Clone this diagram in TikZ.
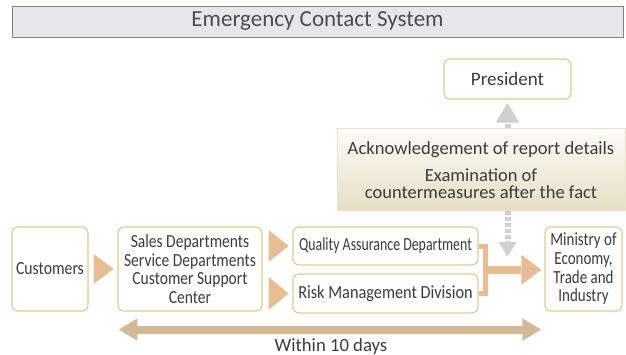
\documentclass[tikz,border=0pt]{standalone}
\usepackage{fontspec}
\usepackage{graphicx}
\setmainfont{Carlito}
\usetikzlibrary{calc,arrows.meta}

\definecolor{txt}{RGB}{60,60,60}
\definecolor{gold}{RGB}{228,203,140}
\definecolor{peach}{RGB}{233,189,148}
\definecolor{tan}{RGB}{210,186,150}
\definecolor{greyarrow}{RGB}{208,208,208}
\definecolor{barfill}{RGB}{230,231,232}
\definecolor{barline}{RGB}{128,128,128}
\definecolor{ackline}{RGB}{232,226,205}
\definecolor{acktop}{RGB}{253,252,248}
\definecolor{ackbot}{RGB}{230,223,198}

% horizontally condensed text
\newcommand\sqz[2]{\scalebox{#1}[1]{#2}}

\begin{document}
\begin{tikzpicture}[x=1pt,y=-1pt,
  boxfont/.style={font=\fontsize{18.5}{18.6}\selectfont},
  unitbox/.style={draw=gold, line width=1.2pt, rounded corners=6pt, fill=white,
    inner sep=0pt, text=txt, align=center, boxfont},
  plain/.style={inner sep=0pt, text=txt},
  greydash/.style={draw=greyarrow, line width=6pt, dash pattern=on 4pt off 2pt},
]
\useasboundingbox (0,0) rectangle (626,354);

% title bar
\node[draw=barline, fill=barfill, line width=1pt, minimum width=611pt, minimum height=31pt,
  inner sep=0pt, text={rgb,255:red,77;green,77;blue,77}, font=\fontsize{23}{23}\selectfont]
  (title) at (317.5,21.5) {Emergency Contact System};

% organisation boxes
\node[unitbox, minimum width=76pt, minimum height=84pt] (cust) at (50,269) {\sqz{0.85}{Customers}};
\node[unitbox, minimum width=144pt, minimum height=84pt] (sales) at (190,269)
  {\sqz{0.84}{Sales Departments}\\\sqz{0.84}{Service Departments}\\\sqz{0.84}{Customer Support}\\\sqz{0.84}{Center}};
\node[unitbox, minimum width=185pt, minimum height=38pt] (qa) at (385.5,246)
  {\sqz{0.75}{Quality Assurance Department}};
\node[unitbox, minimum width=185pt, minimum height=39pt] (risk) at (385.5,293.5)
  {\sqz{0.88}{Risk Management Division}};
\node[unitbox, minimum width=77pt, minimum height=84pt] (meti) at (583.5,269)
  {\sqz{0.81}{Ministry of}\\\sqz{0.81}{Economy,}\\\sqz{0.81}{Trade and}\\\sqz{0.81}{Industry}};
\node[unitbox, minimum width=127pt, minimum height=40pt, font=\fontsize{19}{19}\selectfont]
  (pres) at (507.5,79) {President};

% acknowledgement panel
\node[draw=ackline, line width=1pt, top color=acktop, bottom color=ackbot,
  minimum width=288pt, minimum height=82pt, inner sep=0pt] (ack) at (481,169) {};
\node[plain, anchor=base, font=\fontsize{18.6}{18.6}\selectfont] (ackA) at (481,154)
  {Acknowledgement of report details};
\node[plain, anchor=base, font=\fontsize{18.5}{18.5}\selectfont] (ackB) at (481,181)
  {Examination of};
\node[plain, anchor=base, font=\fontsize{18.5}{18.5}\selectfont] (ackC) at (481,198)
  {countermeasures after the fact};

% grey dashed arrows around the panel
\draw[greydash, -{Triangle[length=20pt,width=22pt]}, shorten >=3pt]
  (ack.north -| pres.south) -- (pres.south);
\coordinate (acktip) at (507.5,257);
\draw[greydash, -{Triangle[length=15pt,width=17pt]}]
  (ack.south -| pres.south) -- (acktip);

% flow triangles between boxes
\fill[peach] ($(cust.east)+(5,-15)$) -- ($(cust.east)+(5,15)$) -- ($(cust.east)+(25,0)$) -- cycle;
\fill[peach] ($(sales.east |- qa.east)+(6,-16)$) -- ($(sales.east |- qa.east)+(6,16)$)
  -- ($(sales.east |- qa.east)+(26,0)$) -- cycle;
\fill[peach] ($(sales.east |- risk.east)+(6,-16.5)$) -- ($(sales.east |- risk.east)+(6,16.5)$)
  -- ($(sales.east |- risk.east)+(26,0)$) -- cycle;

% merge of the two reporting lines towards the ministry
\draw[peach, line width=5pt] (qa.east) -- ++(7,0) |- (risk.east);
\coordinate (merge) at ($(qa.east)!0.5!(risk.east)+(7,0)$);
\coordinate (mtip) at ($(meti.west |- merge)+(-3,0)$);
\draw[peach, line width=8pt] ($(merge)+(-2.5,0)$) -- ($(mtip)+(-20,0)$);
\fill[peach] ($(mtip)+(-20,-15)$) -- ($(mtip)+(-20,15)$) -- (mtip) -- cycle;

% time span
\coordinate (spanL) at ($(sales.south west)+(1,18)$);
\coordinate (spanR) at ($(meti.south west)+(-3,18)$);
\draw[tan, line width=8pt, {Triangle[length=19pt,width=21pt]}-{Triangle[length=19pt,width=21pt]}]
  (spanL) -- (spanR);
\node[plain, anchor=base, font=\fontsize{18.7}{18.7}\selectfont] (span) at (331,351) {Within 10 days};
\end{tikzpicture}
\end{document}
